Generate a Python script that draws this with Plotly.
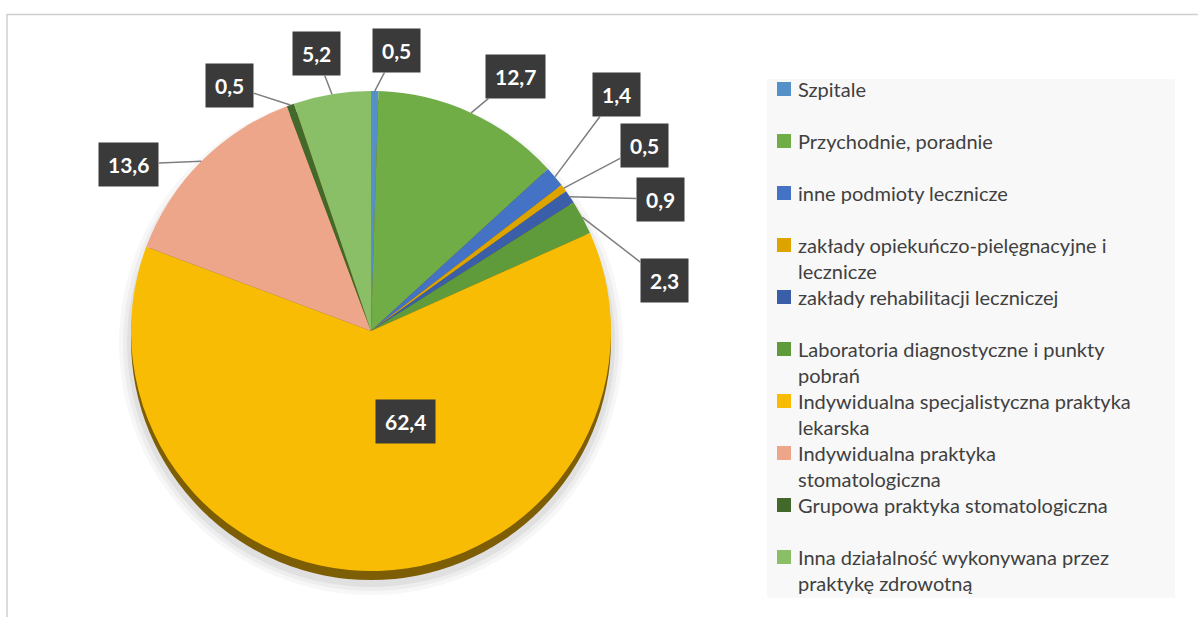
import math
import plotly.graph_objects as go

# data (values in %)
categories = [
    "Szpitale",
    "Przychodnie, poradnie",
    "inne podmioty lecznicze",
    "zakłady opiekuńczo-pielęgnacyjne i<br>lecznicze",
    "zakłady rehabilitacji leczniczej",
    "Laboratoria diagnostyczne i punkty<br>pobrań",
    "Indywidualna specjalistyczna praktyka<br>lekarska",
    "Indywidualna praktyka<br>stomatologiczna",
    "Grupowa praktyka stomatologiczna",
    "Inna działalność wykonywana przez<br>praktykę zdrowotną",
]
values = [0.5, 12.7, 1.4, 0.5, 0.9, 2.3, 62.4, 13.6, 0.5, 5.2]
value_labels = ["0,5", "12,7", "1,4", "0,5", "0,9", "2,3", "62,4", "13,6", "0,5", "5,2"]

colors = [
    "#5590C8", "#70AD47", "#4472C4", "#DDA400", "#3A5FA8",
    "#5F9B3A", "#F8BC05", "#EDA689", "#43682B", "#8BBF67",
]

# label placement: angular shift (deg) and distance (x radius) from the slice mid-angle
label_shift = [4.2, 4.8, -4.0, 2.4, 9.5, 18.5, 0, -10.4, -10.3, -1.8]
label_dist = [1.175, 1.22, 1.42, 1.375, 1.325, 1.24, 0.47, 1.225, 1.18, 1.18]

W, H = 1198, 617
CX, CY, R = 371, 331, 240  # pie centre / radius in pixels
LEG_X, LEG_Y, LEG_STEP = 777, 89, 52  # legend symbol left / first row centre / row step
LEG_FS = 20


def domain(cx, cy, r):
    return dict(x=[(cx - r) / W, (cx + r) / W],
                y=[(H - cy - r) / H, (H - cy + r) / H])


fig = go.Figure()

# soft shadow + 3d edge under the pie
for grow, alpha in [(12, 0.03), (8, 0.04), (4, 0.05)]:
    fig.add_trace(go.Pie(values=[1], sort=False, showlegend=False,
                         textinfo="none", hoverinfo="skip",
                         marker=dict(colors=[f"rgba(0,0,0,{alpha})"], line=dict(width=0)),
                         domain=domain(CX, CY + 12, R + grow)))
fig.add_trace(go.Pie(values=[1], sort=False, showlegend=False,
                     textinfo="none", hoverinfo="skip",
                     marker=dict(colors=["#7d5e05"], line=dict(width=0)),
                     domain=domain(CX, CY + 9, R)))

fig.add_trace(go.Pie(
    labels=categories,
    values=values,
    sort=False,
    direction="clockwise",
    rotation=0,
    textinfo="none",
    showlegend=False,
    marker=dict(colors=colors, line=dict(width=0)),
    domain=domain(CX, CY, R),
))

# data labels in dark boxes
total = sum(values)
annotations = []
cum = 0
for val, txt, sh, dist in zip(values, value_labels, label_shift, label_dist):
    mid = (cum + val / 2) / total * 360
    cum += val
    th = math.radians(mid)
    px, py = CX + R * math.sin(th), CY - R * math.cos(th)
    tl = math.radians(mid + sh)
    lx, ly = CX + dist * R * math.sin(tl), CY - dist * R * math.cos(tl)
    inside = dist < 1
    annotations.append(dict(
        x=(lx if inside else px) / W, y=1 - (ly if inside else py) / H,
        xref="paper", yref="paper",
        text=txt, showarrow=not inside,
        ax=lx - px, ay=ly - py, axref="pixel", ayref="pixel",
        arrowhead=0, arrowwidth=1.5, arrowcolor="#7f7f7f",
        bgcolor="#3a3a3a", borderpad=9,
        font=dict(family="Lato", size=21, color="white", weight="bold"),
    ))

# legend: fixed row pitch like the original (wrapped lines run into the gap)
shapes = [
    dict(type="rect", xref="paper", yref="paper",
         x0=767 / W, x1=1175 / W, y0=1 - 598 / H, y1=1 - 79 / H,
         fillcolor="#F8F8F8", line=dict(width=0), layer="below"),
    dict(type="rect", xref="paper", yref="paper",
         x0=7 / W, x1=1.02, y0=-0.02, y1=1 - 14.5 / H,
         fillcolor="rgba(0,0,0,0)", line=dict(color="#d0d0d0", width=1.5)),
]
for i, (name, col) in enumerate(zip(categories, colors)):
    yc = LEG_Y + i * LEG_STEP
    shapes.append(dict(type="rect", xref="paper", yref="paper",
                       x0=LEG_X / W, x1=(LEG_X + 14) / W,
                       y0=1 - (yc + 7) / H, y1=1 - (yc - 7) / H,
                       fillcolor=col, line=dict(width=0)))
    annotations.append(dict(
        x=(LEG_X + 20) / W, y=1 - (yc - 0.65 * LEG_FS) / H, xref="paper", yref="paper",
        xanchor="left", yanchor="top", align="left", showarrow=False, borderpad=0,
        text=name, font=dict(family="Lato", size=LEG_FS, color="#404040"),
    ))

fig.update_layout(
    width=W, height=H,
    margin=dict(l=0, r=0, t=0, b=0),
    paper_bgcolor="white",
    font=dict(family="Lato", color="#404040"),
    annotations=annotations,
    shapes=shapes,
)

fig.write_html("out.html", config={"displayModeBar": False},
               post_script="document.body.style.margin='0px';")
